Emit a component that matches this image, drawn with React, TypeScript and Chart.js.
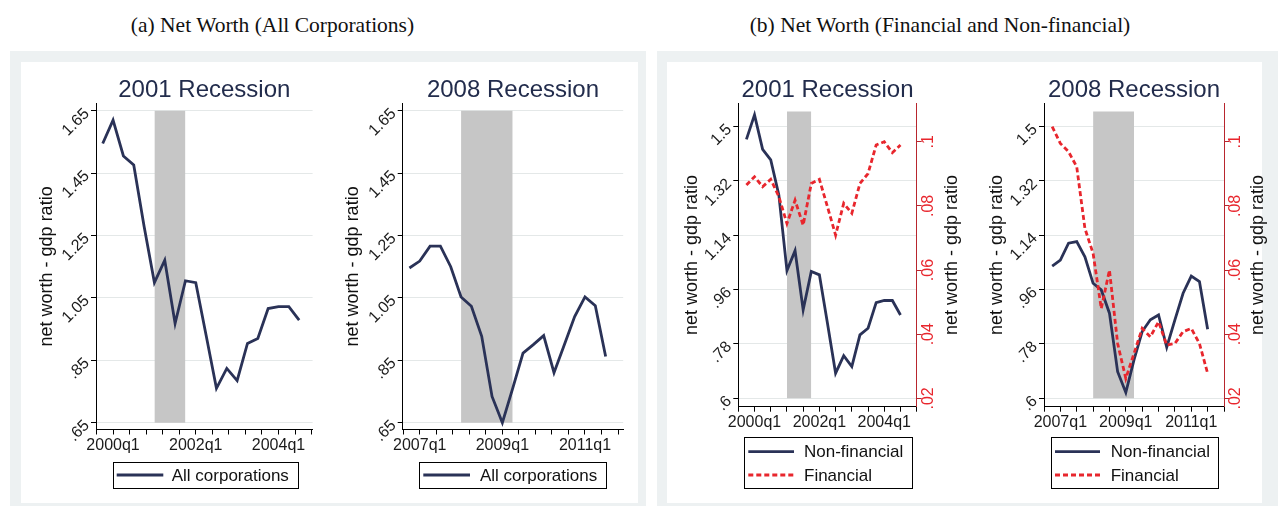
import React, { useEffect, useRef } from "react";
import { Chart, registerables } from "chart.js";

Chart.register(...registerables);

const SANS = '"Liberation Sans", Arial, sans-serif';
const SERIF = '"Liberation Serif", "Times New Roman", serif';

// ---------------- data ----------------
const quarters2001 = ["1999q4","2000q1","2000q2","2000q3","2000q4","2001q1","2001q2","2001q3","2001q4","2002q1","2002q2","2002q3","2002q4","2003q1","2003q2","2003q3","2003q4","2004q1","2004q2","2004q3"];
const quarters2008 = ["2006q4","2007q1","2007q2","2007q3","2007q4","2008q1","2008q2","2008q3","2008q4","2009q1","2009q2","2009q3","2009q4","2010q1","2010q2","2010q3","2010q4","2011q1","2011q2","2011q3"];

const allCorp2001 = [1.545, 1.62, 1.505, 1.476, 1.28, 1.099, 1.171, 0.968, 1.105, 1.099, 0.93, 0.76, 0.824, 0.785, 0.904, 0.92, 1.016, 1.022, 1.022, 0.979];
const allCorp2008 = [1.146, 1.168, 1.216, 1.216, 1.15, 1.053, 1.023, 0.927, 0.734, 0.65, 0.76, 0.873, 0.9, 0.929, 0.81, 0.9, 0.99, 1.053, 1.025, 0.862];

const nonFin2001 = [1.458, 1.539, 1.425, 1.39, 1.274, 1.023, 1.089, 0.893, 1.02, 1.009, 0.848, 0.683, 0.741, 0.705, 0.81, 0.832, 0.917, 0.924, 0.924, 0.876];
const fin2001 = [0.0865, 0.0891, 0.086, 0.0883, 0.0829, 0.0745, 0.0818, 0.074, 0.087, 0.0883, 0.0797, 0.0709, 0.0808, 0.0777, 0.087, 0.0901, 0.099, 0.1, 0.0966, 0.099];

const nonFin2008 = [1.038, 1.058, 1.114, 1.119, 1.069, 0.981, 0.959, 0.882, 0.688, 0.619, 0.727, 0.821, 0.86, 0.876, 0.769, 0.86, 0.948, 1.005, 0.987, 0.829];
const fin2008 = [0.1047, 0.0995, 0.0969, 0.0922, 0.073, 0.0652, 0.048, 0.06, 0.0371, 0.0262, 0.034, 0.0418, 0.0392, 0.0439, 0.0366, 0.0371, 0.0408, 0.0418, 0.0371, 0.0278];

const recession2001 = ["2001q1", "2001q4"];
const recession2008 = ["2008q1", "2009q2"];
const shadeRangeA = [0.65, 1.65];
const shadeRangeB = [0.6, 1.55];

const xLabels2001 = ["2000q1", "2002q1", "2004q1"];
const xLabels2008 = ["2007q1", "2009q1", "2011q1"];

const yTicksA = [0.65, 0.85, 1.05, 1.25, 1.45, 1.65];
const yTickLabelsA = [".65", ".85", "1.05", "1.25", "1.45", "1.65"];
const yTicksB = [0.6, 0.78, 0.96, 1.14, 1.32, 1.5];
const yTickLabelsB = [".6", ".78", ".96", "1.14", "1.32", "1.5"];
const yTicksFin = [0.02, 0.04, 0.06, 0.08, 0.1];
const yTickLabelsFin = [".02", ".04", ".06", ".08", ".1"];

const panelTitleA = "(a) Net Worth (All Corporations)";
const panelTitleB = "(b) Net Worth (Financial and Non-financial)";
const yTitle = "net worth - gdp ratio";

// ---------------- styles ----------------
const NAVY = "#2a3257";
const RED = "#e8262d";
const AXIS_RED = "#b8262e";
const GRID = "#e4e8e8";
const SHADE = "#c6c6c6";
const TEXT = "#1b1b1b";
const TITLE = "#222c4c";

function qIndex(q: string) {
  const [y, n] = q.split("q");
  return Number(y) * 4 + Number(n) - 1;
}

type Series = { label: string; data: number[]; color: string; dash: number[]; axis: string; order: number };
type PanelCfg = {
  canvas: { left: number; top: number; width: number; height: number };
  area: { left: number; right: number; top: number; bottom: number };
  title: string;
  quarters: string[];
  series: Series[];
  recession: string[];
  shade: number[];
  xLabels: string[];
  minorDiv: number;
  xMin: number;
  xMax: number;
  yMin: number;
  yMax: number;
  yTicks: number[];
  yLabels: string[];
  y2?: { min: number; max: number; ticks: number[]; labels: string[] };
  yTitleX: number;
  y2TitleX?: number;
  legend: { box: number[]; rows: number[]; line: number[]; textX: number };
};

function Panel({ cfg }: { cfg: PanelCfg }) {
  const ref = useRef<HTMLCanvasElement>(null);
  useEffect(() => {
    const c = cfg;
    const cv = c.canvas;
    const yW = 10;
    const xH = 40;
    const majors = c.xLabels.map(qIndex);
    const base = majors[0];
    const step = (majors[1] - majors[0]) / c.minorDiv;
    const tickVals: number[] = [];
    const k0 = Math.ceil(c.xMin / step - 1e-9);
    const k1 = Math.floor(c.xMax / step + 1e-9);
    for (let k = k0; k <= k1; k++) tickVals.push(base + k * step);

    const xs = c.quarters.map(qIndex);
    const datasets: any[] = c.series.map((s) => ({
      type: "line",
      label: s.label,
      data: xs.map((x, j) => ({ x, y: s.data[j] })),
      borderColor: s.color,
      backgroundColor: s.color,
      borderWidth: 2.8,
      borderDash: s.dash,
      pointRadius: 0,
      tension: 0,
      fill: false,
      yAxisID: s.axis,
      order: s.order,
    }));
    const r = c.recession.map(qIndex);
    datasets.push({
      type: "line",
      label: "recession",
      data: [
        { x: r[0], y: c.shade[1] },
        { x: r[1], y: c.shade[1] },
      ],
      fill: { value: c.shade[0] },
      backgroundColor: SHADE,
      borderColor: "transparent",
      borderWidth: 0,
      pointRadius: 0,
      yAxisID: "y",
      order: 10,
    });

    const scales: any = {
      x: {
        type: "linear",
        min: base + c.xMin,
        max: base + c.xMax,
        afterBuildTicks: (s: any) => {
          s.ticks = tickVals.map((v) => ({ value: v }));
        },
        afterFit: (s: any) => {
          s.height = xH;
        },
        grid: { drawOnChartArea: false, drawTicks: true, tickLength: 5, color: "#000", tickColor: "#000", tickWidth: 1 },
        border: { display: true, color: "#000", width: 1 },
        ticks: {
          autoSkip: false,
          maxRotation: 0,
          minRotation: 0,
          padding: 1,
          color: TEXT,
          font: { family: SANS, size: 16 },
          callback: (v: number) => {
            const i = majors.findIndex((m) => Math.abs(m - v) < 1e-6);
            return i >= 0 ? c.xLabels[i] : "";
          },
        },
      },
      y: {
        type: "linear",
        position: "left",
        min: c.yMin,
        max: c.yMax,
        afterBuildTicks: (s: any) => {
          s.ticks = c.yTicks.map((v) => ({ value: v }));
        },
        afterFit: (s: any) => {
          s.width = yW;
        },
        ticks: { display: false },
        grid: { color: GRID, lineWidth: 1, drawTicks: true, tickLength: 5, tickColor: "#000", tickWidth: 1 },
        border: { display: true, color: "#000", width: 1 },
      },
    };
    if (c.y2) {
      const y2 = c.y2;
      scales.y2 = {
        type: "linear",
        position: "right",
        min: y2.min,
        max: y2.max,
        afterBuildTicks: (s: any) => {
          s.ticks = y2.ticks.map((v) => ({ value: v }));
        },
        afterFit: (s: any) => {
          s.width = yW;
        },
        ticks: { display: false },
        grid: { drawOnChartArea: false, drawTicks: true, tickLength: 5, tickColor: AXIS_RED, tickWidth: 1 },
        border: { display: true, color: AXIS_RED, width: 1 },
      };
    }

    const textPlugin = {
      id: "panelText",
      afterDraw(chart: any) {
        const ctx = chart.ctx as CanvasRenderingContext2D;
        const ca = chart.chartArea;
        const ys = chart.scales.y;
        ctx.save();
        // subplot title
        ctx.fillStyle = TITLE;
        ctx.font = `24px ${SANS}`;
        ctx.textAlign = "center";
        ctx.textBaseline = "alphabetic";
        ctx.fillText(c.title, (ca.left + ca.right) / 2, 97 - cv.top);

        // left y tick labels, 45 degrees
        ctx.fillStyle = TEXT;
        ctx.font = `16px ${SANS}`;
        c.yTicks.forEach((v, i) => {
          const py = ys.getPixelForValue(v);
          ctx.save();
          ctx.translate(ca.left - 9, py + 0.5);
          ctx.rotate(-Math.PI / 4);
          ctx.textAlign = "right";
          ctx.textBaseline = "middle";
          ctx.fillText(c.yLabels[i], 0, 0);
          ctx.restore();
        });
        // right y tick labels, vertical
        if (c.y2) {
          const y2s = chart.scales.y2;
          ctx.fillStyle = RED;
          c.y2.ticks.forEach((v, i) => {
            const py = y2s.getPixelForValue(v);
            ctx.save();
            ctx.translate(ca.right + 12, py);
            ctx.rotate(-Math.PI / 2);
            ctx.textAlign = "center";
            ctx.textBaseline = "middle";
            ctx.fillText(c.y2!.labels[i], 0, 0);
            ctx.restore();
          });
        }
        // axis titles
        ctx.fillStyle = "#111";
        ctx.font = `18px ${SANS}`;
        const midY = (ca.top + ca.bottom) / 2;
        const titles = [c.yTitleX];
        if (c.y2TitleX !== undefined) titles.push(c.y2TitleX);
        titles.forEach((tx) => {
          ctx.save();
          ctx.translate(tx - cv.left, midY);
          ctx.rotate(-Math.PI / 2);
          ctx.textAlign = "center";
          ctx.textBaseline = "middle";
          ctx.fillText(yTitle, 0, 0);
          ctx.restore();
        });
        // legend
        const L = c.legend;
        const bx0 = Math.round(L.box[0] - cv.left) + 0.5;
        const by0 = Math.round(L.box[1] - cv.top) + 0.5;
        const bx1 = Math.round(L.box[2] - cv.left) + 0.5;
        const by1 = Math.round(L.box[3] - cv.top) + 0.5;
        ctx.fillStyle = "#fff";
        ctx.fillRect(bx0, by0, bx1 - bx0, by1 - by0);
        ctx.strokeStyle = "#000";
        ctx.lineWidth = 1;
        ctx.setLineDash([]);
        ctx.strokeRect(bx0, by0, bx1 - bx0, by1 - by0);
        c.series.forEach((s, i) => {
          const ry = L.rows[i] - cv.top;
          ctx.save();
          ctx.strokeStyle = s.color;
          ctx.lineWidth = 2.8;
          ctx.setLineDash(s.dash);
          ctx.beginPath();
          ctx.moveTo(L.line[0] - cv.left, ry);
          ctx.lineTo(L.line[1] - cv.left, ry);
          ctx.stroke();
          ctx.restore();
          ctx.fillStyle = "#111";
          ctx.font = `17px ${SANS}`;
          ctx.textAlign = "left";
          ctx.textBaseline = "middle";
          ctx.fillText(s.label, L.textX - cv.left, ry + 1);
        });
        ctx.restore();
      },
    };

    const chart = new Chart(ref.current as HTMLCanvasElement, {
      type: "line",
      data: { datasets },
      options: {
        responsive: false,
        animation: false,
        devicePixelRatio: 1,
        events: [],
        layout: {
          autoPadding: false,
          padding: {
            left: c.area.left - cv.left - yW,
            right: cv.left + cv.width - c.area.right - (c.y2 ? yW : 0),
            top: c.area.top - cv.top,
            bottom: cv.top + cv.height - c.area.bottom - xH,
          },
        },
        plugins: { legend: { display: false }, tooltip: { enabled: false }, title: { display: false } },
        scales,
      } as any,
      plugins: [textPlugin],
    });
    return () => chart.destroy();
  }, [cfg]);
  const cv = cfg.canvas;
  return (
    <canvas
      ref={ref}
      width={cv.width}
      height={cv.height}
      style={{ position: "absolute", left: cv.left, top: cv.top, width: cv.width, height: cv.height }}
    />
  );
}

const panels: PanelCfg[] = [
  {
    canvas: { left: 22, top: 63, width: 300, height: 440 },
    area: { left: 96, right: 312.6, top: 103.3, bottom: 429.5 },
    title: "2001 Recession",
    quarters: quarters2001,
    series: [{ label: "All corporations", data: allCorp2001, color: NAVY, dash: [], axis: "y", order: 2 }],
    recession: recession2001,
    shade: shadeRangeA,
    xLabels: xLabels2001,
    minorDiv: 5,
    xMin: -1.65,
    xMax: 19.3,
    yMin: 0.628,
    yMax: 1.674,
    yTicks: yTicksA,
    yLabels: yTickLabelsA,
    yTitleX: 46.7,
    legend: { box: [113, 461.7, 298, 488.3], rows: [475], line: [116.7, 163.3], textX: 171.7 },
  },
  {
    canvas: { left: 330, top: 63, width: 300, height: 440 },
    area: { left: 402.7, right: 623.2, top: 103.3, bottom: 429.5 },
    title: "2008 Recession",
    quarters: quarters2008,
    series: [{ label: "All corporations", data: allCorp2008, color: NAVY, dash: [], axis: "y", order: 2 }],
    recession: recession2008,
    shade: shadeRangeA,
    xLabels: xLabels2008,
    minorDiv: 5,
    xMin: -1.65,
    xMax: 19.7,
    yMin: 0.628,
    yMax: 1.674,
    yTicks: yTicksA,
    yLabels: yTickLabelsA,
    yTitleX: 353.3,
    legend: { box: [419.3, 461.7, 605.7, 488.3], rows: [475], line: [423.3, 470], textX: 480 },
  },
  {
    canvas: { left: 668, top: 63, width: 296, height: 440 },
    area: { left: 738.3, right: 916.7, top: 103.3, bottom: 406.7 },
    title: "2001 Recession",
    quarters: quarters2001,
    series: [
      { label: "Non-financial", data: nonFin2001, color: NAVY, dash: [], axis: "y", order: 2 },
      { label: "Financial", data: fin2001, color: RED, dash: [5, 3], axis: "y2", order: 1 },
    ],
    recession: recession2001,
    shade: shadeRangeB,
    xLabels: xLabels2001,
    minorDiv: 4,
    xMin: -2,
    xMax: 20,
    yMin: 0.572,
    yMax: 1.5775,
    yTicks: yTicksB,
    yLabels: yTickLabelsB,
    y2: { min: 0.0174, max: 0.112, ticks: yTicksFin, labels: yTickLabelsFin },
    yTitleX: 691.7,
    y2TitleX: 951.7,
    legend: { box: [744, 437.3, 911.7, 488.3], rows: [451.7, 475], line: [748.3, 794], textX: 804 },
  },
  {
    canvas: { left: 966, top: 63, width: 306, height: 440 },
    area: { left: 1044, right: 1224, top: 103.3, bottom: 406.7 },
    title: "2008 Recession",
    quarters: quarters2008,
    series: [
      { label: "Non-financial", data: nonFin2008, color: NAVY, dash: [], axis: "y", order: 2 },
      { label: "Financial", data: fin2008, color: RED, dash: [5, 3], axis: "y2", order: 1 },
    ],
    recession: recession2008,
    shade: shadeRangeB,
    xLabels: xLabels2008,
    minorDiv: 4,
    xMin: -2,
    xMax: 20,
    yMin: 0.572,
    yMax: 1.5775,
    yTicks: yTicksB,
    yLabels: yTickLabelsB,
    y2: { min: 0.0174, max: 0.112, ticks: yTicksFin, labels: yTickLabelsFin },
    yTitleX: 996.7,
    y2TitleX: 1258.3,
    legend: { box: [1051, 437.3, 1218.3, 488.3], rows: [451.7, 475], line: [1055, 1100], textX: 1110.7 },
  },
];

const FRAME = "#edf1f2";

export default function App() {
  return (
    <div style={{ position: "absolute", left: 0, top: 0, width: 1278, height: 506, background: "#fff", overflow: "hidden" }}>
      <div style={{ position: "absolute", left: 72.5, top: 13, width: 400, textAlign: "center", font: `21.5px ${SERIF}`, lineHeight: "24px", color: "#111", whiteSpace: "nowrap" }}>
        {panelTitleA}
      </div>
      <div style={{ position: "absolute", left: 690, top: 13, width: 500, textAlign: "center", font: `21.5px ${SERIF}`, lineHeight: "24px", color: "#111", whiteSpace: "nowrap" }}>
        {panelTitleB}
      </div>
      <div style={{ position: "absolute", left: 10, top: 51, width: 636, height: 455, background: FRAME }} />
      <div style={{ position: "absolute", left: 21, top: 62, width: 617, height: 441, background: "#fff" }} />
      <div style={{ position: "absolute", left: 657, top: 51, width: 621, height: 455, background: FRAME }} />
      <div style={{ position: "absolute", left: 667, top: 62, width: 595, height: 441, background: "#fff" }} />
      {panels.map((p, i) => (
        <Panel key={i} cfg={p} />
      ))}
    </div>
  );
}
